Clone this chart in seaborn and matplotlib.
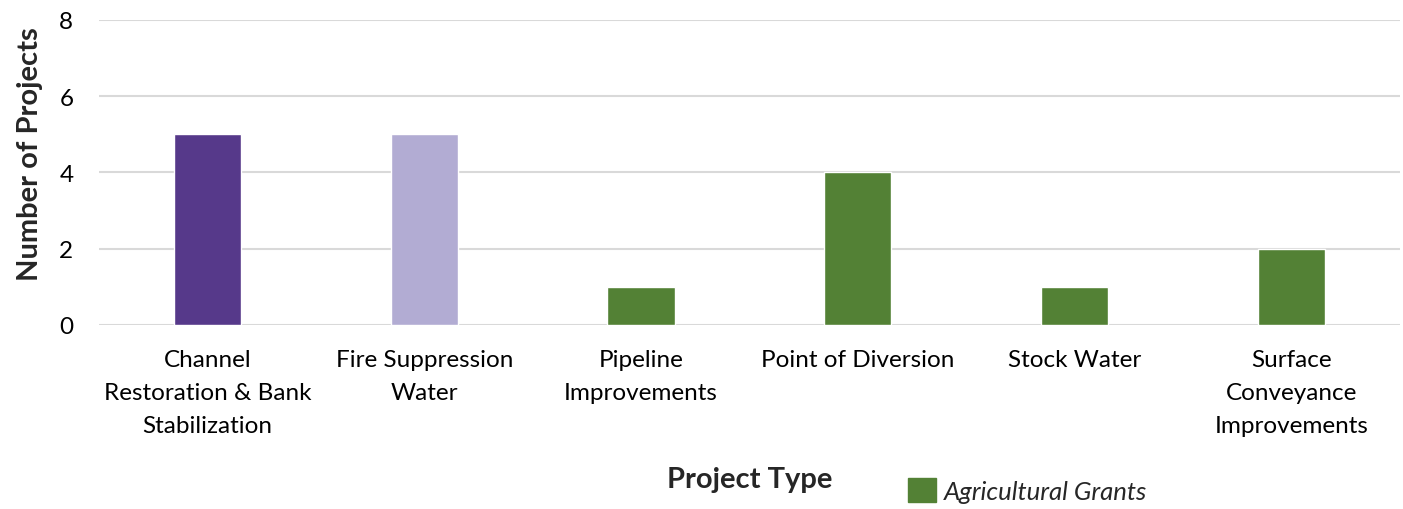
import matplotlib
matplotlib.use("Agg")
import matplotlib.pyplot as plt
from matplotlib.patches import Patch
import pandas as pd
import seaborn as sns

categories = ["Channel\nRestoration & Bank\nStabilization", "Fire Suppression\nWater",
              "Pipeline\nImprovements", "Point of Diversion", "Stock Water",
              "Surface\nConveyance\nImprovements"]
counts = [5, 5, 1, 4, 1, 2]
bar_colors = ["#56398a", "#b2acd3", "#538135", "#538135", "#538135", "#538135"]
legend_label = "Agricultural Grants"

df = pd.DataFrame({"category": categories, "count": counts})

sns.set_style("white")
plt.rcParams["font.family"] = ["Lato", "DejaVu Sans"]

fig = plt.figure(figsize=(14.03, 5.10), dpi=100)
ax = fig.add_axes([0.0706, 0.361, 0.927, 0.598])

sns.barplot(data=df, x="category", y="count", hue="category",
            palette=bar_colors, legend=False, width=0.31, saturation=1, ax=ax)

ax.set_ylim(0, 8)
ax.set_yticks([0, 2, 4, 6, 8])
ax.set_xlim(-0.5, 5.5)
ax.yaxis.grid(True, color="#d9d9d9", linewidth=1.5)
ax.set_axisbelow(True)
for s in ax.spines.values():
    s.set_visible(False)
ax.tick_params(axis="both", length=0, labelsize=17.5, colors="black")
ax.tick_params(axis="x", pad=17)
ax.tick_params(axis="y", pad=18.5)
for lbl in ax.get_xticklabels():
    lbl.set_linespacing(1.72)

ax.set_xlabel("Project Type", fontsize=21, fontweight="bold")
ax.xaxis.set_label_coords(0.5, -0.505)
ax.xaxis.label.set_va("center")
ax.set_ylabel("Number of Projects", fontsize=21, fontweight="bold")
ax.yaxis.set_label_coords(-0.053, 0.564)
ax.yaxis.label.set_va("center")

fig.legend(handles=[Patch(color="#538135", label=legend_label)],
           loc="center left", bbox_to_anchor=(0.647, 0.037), frameon=False,
           borderpad=0, borderaxespad=0,
           prop={"style": "italic", "size": 18.5}, handlelength=1.1, handleheight=1.1,
           handletextpad=0.3)

fig.savefig("out.png", dpi=100)
